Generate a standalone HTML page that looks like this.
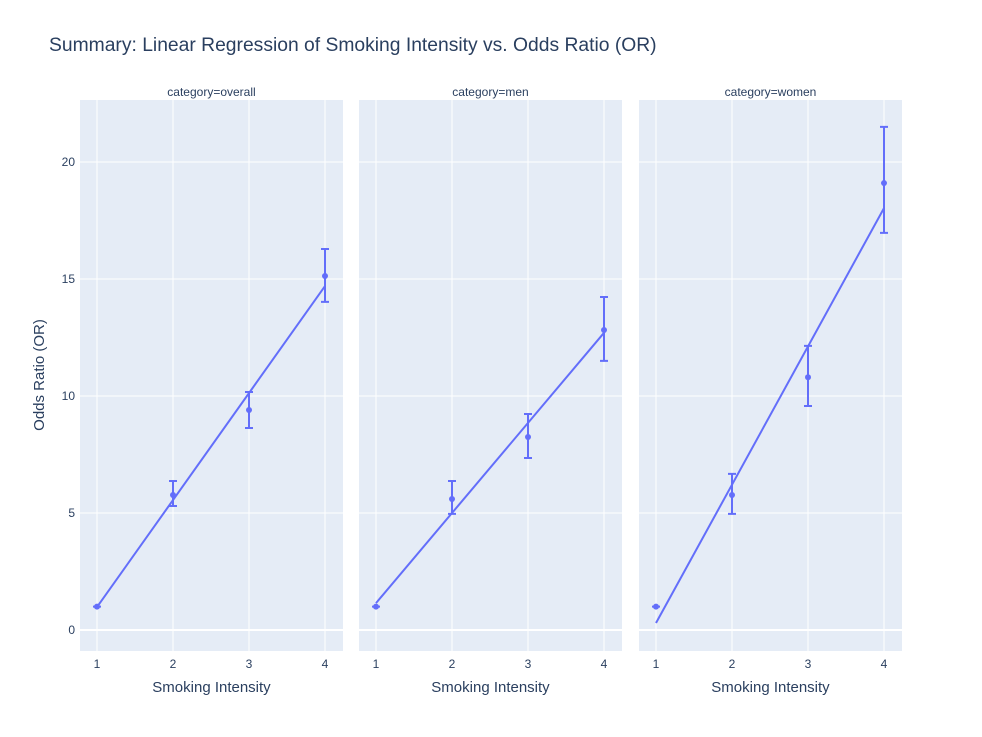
<!DOCTYPE html>
<html><head><meta charset="utf-8"><style>
body{margin:0;background:#fff;font-family:"Liberation Sans",sans-serif}
</style></head><body>
<svg id="chart" width="982" height="732" xmlns="http://www.w3.org/2000/svg" font-family="Liberation Sans, sans-serif">
<text x="49" y="51" font-size="19.3" fill="#2a3f5f">Summary: Linear Regression of Smoking Intensity vs. Odds Ratio (OR)</text>
<text transform="translate(44,375) rotate(-90)" text-anchor="middle" font-size="15" fill="#2a3f5f">Odds Ratio (OR)</text>
<g id="plots"></g>
</svg>
<script>
const categories = ["overall","men","women"];
const xValues = [1,2,3,4];
const orOverall = [1.0,5.77,9.4,15.13];
const orMen = [1.0,5.6,8.25,12.82];
const orWomen = [1.0,5.77,10.8,19.1];
const upOverall = [1.0,6.37,10.17,16.28];
const loOverall = [1.0,5.3,8.63,14.02];
const upMen = [1.0,6.37,9.23,14.23];
const loMen = [1.0,4.96,7.35,11.5];
const upWomen = [1.0,6.67,12.14,21.5];
const loWomen = [1.0,4.96,9.57,16.97];
const fitOverall = [0.98,14.7];
const fitMen = [1.15,12.7];
const fitWomen = [0.3,18.03];
const yTicks = [0,5,10,15,20];
const xTicks = [1,2,3,4];

{
const series=[[orOverall,upOverall,loOverall,fitOverall],[orMen,upMen,loMen,fitMen],[orWomen,upWomen,loWomen,fitWomen]];
const panelLeft=[80,359,639], pw=263, plotTop=100, plotBottom=651;
const yS=v=>630-(v)*23.4;
const NS="http://www.w3.org/2000/svg";
const g=document.getElementById('plots');
function mk(t,a,p){const e=document.createElementNS(NS,t);for(const k in a)e.setAttribute(k,a[k]);(p||g).appendChild(e);return e;}
categories.forEach((c,i)=>{
  const L=panelLeft[i];
  const xS=v=>L+17+(v-1)*76;
  const bg=mk('rect',{x:L,y:plotTop,width:pw,height:plotBottom-plotTop,fill:'#e5ecf6'});
  
  
  yTicks.forEach(t=>{const l=mk('line',{x1:L,x2:L+pw,y1:yS(t),y2:yS(t),stroke:'#fff','stroke-width':t===0?2:1});
    
    
    if(i===0){const tx=mk('text',{x:L-5,y:yS(t)+4,'text-anchor':'end','font-size':12,fill:'#2a3f5f'});tx.textContent=t;
      
      }
  });
  xTicks.forEach(t=>{const l=mk('line',{x1:xS(t),x2:xS(t),y1:plotTop,y2:plotBottom,stroke:'#fff'});
    
    
    const tx=mk('text',{x:xS(t),y:668,'text-anchor':'middle','font-size':12,fill:'#2a3f5f'});tx.textContent=t;
    
    
  });
  const st=mk('text',{x:L+pw/2,y:96,'text-anchor':'middle','font-size':12,fill:'#2a3f5f'});st.textContent='category='+c;
  
  
  const xt=mk('text',{x:L+pw/2,y:692,'text-anchor':'middle','font-size':15,fill:'#2a3f5f'});xt.textContent='Smoking Intensity';
  
  
  const [or,up,lo,fit]=series[i];
  const fl=mk('line',{x1:xS(1),y1:yS(fit[0]),x2:xS(4),y2:yS(fit[1]),stroke:'#636efa','stroke-width':2});
  
  
  xValues.forEach((xv,j)=>{
    const e=mk('path',{d:`M${xS(xv)},${yS(up[j])}V${yS(lo[j])}M${xS(xv)-4},${yS(up[j])}h8M${xS(xv)-4},${yS(lo[j])}h8`,stroke:'#636efa','stroke-width':2,fill:'none'});
    
    
    const p=mk('circle',{cx:xS(xv),cy:yS(or[j]),r:3,fill:'#636efa'});
    
    
  });
});
}
</script>
</body></html>
